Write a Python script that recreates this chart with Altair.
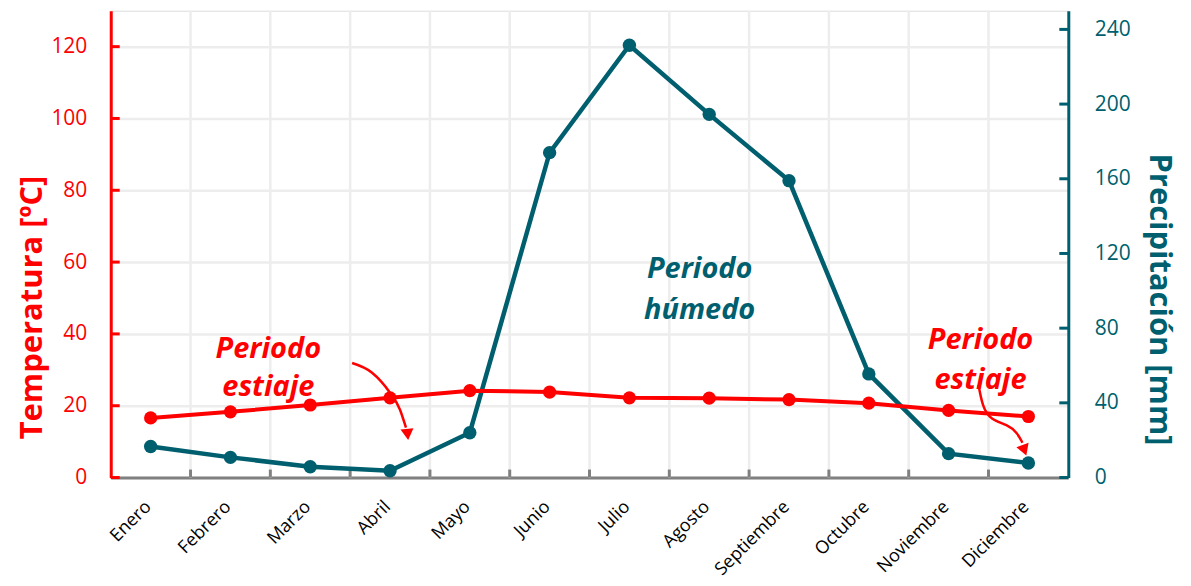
import json
import altair as alt
import pandas as pd

# ---- data ----
months = ["Enero", "Febrero", "Marzo", "Abril", "Mayo", "Junio", "Julio",
          "Agosto", "Septiembre", "Octubre", "Noviembre", "Diciembre"]
temperature = [16.6, 18.3, 20.2, 22.2, 24.2, 23.8, 22.2, 22.1, 21.7, 20.7, 18.7, 17.0]
precipitation = [16.6, 10.8, 5.8, 3.6, 24.0, 174.0, 231.5, 194.5, 159.0, 55.5, 12.8, 7.8]

temp_ticks = [0, 20, 40, 60, 80, 100, 120]
precip_ticks = [0, 40, 80, 120, 160, 200, 240]
band_edges = [0.5, 1.5, 2.5, 3.5, 4.5, 5.5, 6.5, 7.5, 8.5, 9.5, 10.5]

# annotations (month index, temperature units of the first line)
note_texts = ["Periodo\nestiaje", "Periodo\nestiaje"]
note_x = [1.475, 10.4]
note_y = [35.8, 38.3]
note_lh = [38, 40]
wet_text = ["Periodo\nhúmedo"]
wet_x = [6.88]
wet_y = [58.1]

arrow1_x = [2.525, 2.775, 2.99, 3.125, 3.2]
arrow1_y = [31.9, 29.2, 23.9, 18.9, 13.9]
arrow2_x = [10.375, 10.425, 10.525, 10.74, 10.86, 10.925]
arrow2_y = [25.8, 19.7, 16.1, 14.7, 12.5, 9.7]
head_x = [3.22, 10.95]
head_y = [12.0, 7.6]
head_angle = [354, 340]

RED = "#FF0000"
TEAL = "#005F6E"
GRID = "#EDEDED"
FONT = "Open Sans"
NOTE_SIZE = 29

W, H = 960, 468

df = pd.DataFrame({"idx": list(range(12)), "mes": months,
                   "temp": temperature, "precip": precipitation})

xscale = alt.Scale(domain=[-0.5, 11.5], nice=False, zero=False)
tscale = alt.Scale(domain=[0, 130], nice=False)
pscale = alt.Scale(domain=[0, 250], nice=False)

label_expr = json.dumps(months) + "[datum.value]"

x_axis = alt.Axis(values=list(range(12)), labelExpr=label_expr, labelAngle=-45,
                  labelAlign="right", labelBaseline="top", labelFont=FONT,
                  labelFontSize=18, labelColor="black", labelPadding=20,
                  labelOffset=-9, labelOverlap=False, labelBound=False,
                  domainColor="#808080", domainWidth=3, ticks=False, grid=False,
                  title=None)

right_axis = alt.Axis(orient="right", values=precip_ticks, grid=False, ticks=False,
                      domainColor=TEAL, domainWidth=3, labelColor=TEAL, labelFont=FONT,
                      labelFontSize=21, labelPadding=26, title="Precipitación [mm]",
                      titleColor=TEAL, titleFont=FONT, titleFontSize=31,
                      titleFontWeight="bold", titleAngle=90, titlePadding=12,
                      titleY=289)

left_axis = alt.Axis(orient="left", values=temp_ticks, grid=True, gridColor=GRID,
                     gridWidth=2.5, ticks=False, domainColor=RED, domainWidth=3,
                     labelColor=RED, labelFont=FONT, labelFontSize=21, labelPadding=24,
                     title="Temperatura [ºC]", titleColor=RED, titleFont=FONT,
                     titleFontSize=31, titleFontWeight="bold", titlePadding=2,
                     titleY=297)


def X(field="idx"):
    return alt.X(f"{field}:Q", scale=xscale, axis=x_axis)


def YT(field):
    return alt.Y(f"{field}:Q", scale=tscale, axis=left_axis)


def YP(field):
    return alt.Y(f"{field}:Q", scale=pscale, axis=right_axis)


# ---------- precipitation layers (drawn first) ----------
vgrid = alt.Chart(pd.DataFrame({"e": band_edges})).mark_rule(
    color=GRID, strokeWidth=2.5).encode(x=X("e"), y=alt.value(0), y2=alt.value(H))

bottom_ticks = alt.Chart(pd.DataFrame({"e": band_edges})).mark_rule(
    color="#808080", strokeWidth=3).encode(x=X("e"), y=alt.value(H - 8), y2=alt.value(H))

precip_line = alt.Chart(df).mark_line(color=TEAL, strokeWidth=4.5).encode(
    x=X(), y=YP("precip"))
precip_pts = alt.Chart(df).mark_point(filled=True, opacity=1, color=TEAL, size=180).encode(
    x=X(), y=YP("precip"))
right_ticks = alt.Chart(pd.DataFrame({"v": precip_ticks})).mark_rule(
    color=TEAL, strokeWidth=3).encode(
    x=alt.value(W - 9), x2=alt.value(W), y=YP("v"))

precip_block = alt.layer(vgrid, bottom_ticks, precip_line, precip_pts, right_ticks)

# ---------- temperature layers ----------
temp_line = alt.Chart(df).mark_line(color=RED, strokeWidth=4).encode(
    x=X(), y=YT("temp"))
temp_pts = alt.Chart(df).mark_point(filled=True, opacity=1, color=RED, size=175).encode(
    x=X(), y=YT("temp"))
left_ticks = alt.Chart(pd.DataFrame({"v": temp_ticks})).mark_rule(
    color=RED, strokeWidth=3).encode(
    x=alt.value(0), x2=alt.value(9), y=YT("v"))

note1 = alt.Chart(pd.DataFrame({"t": note_texts[:1], "x": note_x[:1], "y": note_y[:1]})).mark_text(
    font=FONT, fontSize=NOTE_SIZE, fontWeight="bold", fontStyle="italic", color=RED,
    lineBreak="\n", lineHeight=note_lh[0], align="center", baseline="middle").encode(
    x=X("x"), y=YT("y"), text="t:N")
note2 = alt.Chart(pd.DataFrame({"t": note_texts[1:], "x": note_x[1:], "y": note_y[1:]})).mark_text(
    font=FONT, fontSize=NOTE_SIZE, fontWeight="bold", fontStyle="italic", color=RED,
    lineBreak="\n", lineHeight=note_lh[1], align="center", baseline="middle").encode(
    x=X("x"), y=YT("y"), text="t:N")
wet_note = alt.Chart(pd.DataFrame({"t": wet_text, "x": wet_x, "y": wet_y})).mark_text(
    font=FONT, fontSize=NOTE_SIZE, fontWeight="bold", fontStyle="italic", color=TEAL,
    lineBreak="\n", lineHeight=41, align="center", baseline="middle").encode(
    x=X("x"), y=YT("y"), text="t:N")

a1 = pd.DataFrame({"x": arrow1_x, "y": arrow1_y, "o": list(range(len(arrow1_x)))})
a2 = pd.DataFrame({"x": arrow2_x, "y": arrow2_y, "o": list(range(len(arrow2_x)))})
arrow1 = alt.Chart(a1).mark_line(color=RED, strokeWidth=2.5, interpolate="monotone").encode(
    x=X("x"), y=YT("y"), order="o:Q")
arrow2 = alt.Chart(a2).mark_line(color=RED, strokeWidth=2.5, interpolate="basis").encode(
    x=X("x"), y=YT("y"), order="o:Q")
heads = alt.Chart(pd.DataFrame({"x": head_x, "y": head_y, "a": head_angle})).mark_point(
    shape="triangle-down", filled=True, opacity=1, color=RED, size=170).encode(
    x=X("x"), y=YT("y"), angle=alt.Angle("a:Q", scale=None))

temp_block = alt.layer(temp_line, temp_pts, left_ticks, note1, note2, wet_note,
                       arrow1, arrow2, heads)

chart = alt.layer(precip_block, temp_block).resolve_scale(y="independent").properties(
    width=W, height=H,
    padding={"left": 8, "top": 0, "right": 8, "bottom": 5}
).configure_view(stroke="#A0A0A0", strokeWidth=2.5).configure(background="white")

chart.save("out.html", embed_options={"renderer": "svg", "actions": False})
